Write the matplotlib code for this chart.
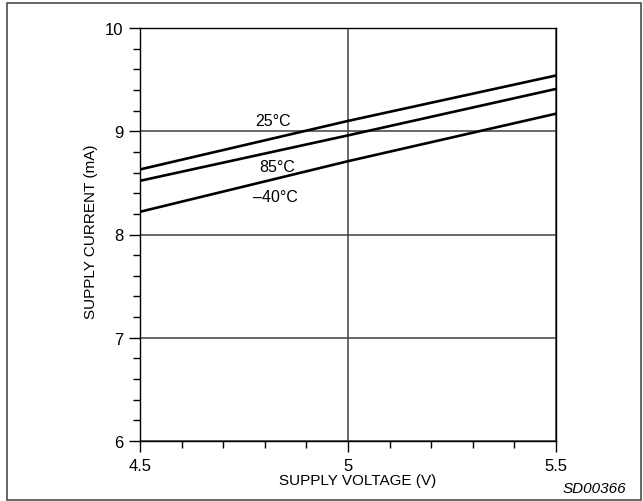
import matplotlib
matplotlib.use('Agg')
import matplotlib.pyplot as plt
from matplotlib.patches import Rectangle
from matplotlib.ticker import MultipleLocator

plt.rcParams['font.family'] = ['Liberation Sans', 'DejaVu Sans']

# supply voltage (V) and supply current (mA) per temperature
voltage = [4.5, 5.0, 5.5]
curves = [
    ("25°C", [8.63, 9.10, 9.54]),
    ("85°C", [8.52, 8.96, 9.41]),
    ("\u201340°C", [8.22, 8.71, 9.17]),
]
label_pos = [(4.82, 9.10), (4.83, 8.66), (4.825, 8.37)]

W, H = 643, 502
fig = plt.figure(figsize=(W / 100, H / 100), dpi=100)
ax = fig.add_axes([140 / W, 1 - 442 / H, 416 / W, 413 / H])

for (name, vals), (tx, ty) in zip(curves, label_pos):
    ax.plot(voltage, vals, color='black', lw=1.9, solid_capstyle='butt', zorder=3)
    ax.text(tx, ty, name, fontsize=11.5, ha='center', va='center')

ax.set_xlim(4.5, 5.5)
ax.set_ylim(6, 10)
ax.set_xticks([4.5, 5, 5.5])
ax.set_xticklabels(['4.5', '5', '5.5'])
ax.set_yticks([6, 7, 8, 9, 10])
ax.xaxis.set_minor_locator(MultipleLocator(0.1))
ax.yaxis.set_minor_locator(MultipleLocator(0.2))
ax.tick_params(which='major', direction='out', length=8, width=1, pad=4, labelsize=12)
ax.tick_params(which='minor', direction='out', length=4.8, width=1)
ax.grid(which='major', color='0.25', lw=1.1)
for s in ax.spines.values():
    s.set_linewidth(1)

fig.text(358 / W, 1 - 481 / H, "SUPPLY VOLTAGE (V)", fontsize=11, ha='center', va='center')
fig.text(91 / W, 1 - 232 / H, "SUPPLY CURRENT (mA)", fontsize=11, ha='center',
         va='center', rotation=90)
fig.text(594 / W, 1 - 489 / H, "SD00366", fontsize=11, style='italic',
         ha='center', va='center')

fig.patches.append(Rectangle((7 / W, 1 / H), 634 / W, 497 / H, transform=fig.transFigure,
                             fill=False, edgecolor='0.3', lw=1.2))

fig.savefig('out.png', dpi=100)
